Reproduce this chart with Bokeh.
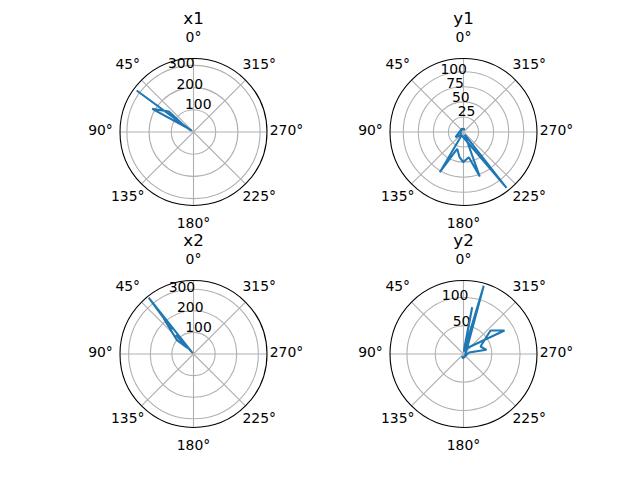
import numpy as np
from bokeh.plotting import figure
from bokeh.models import Range1d
from bokeh.core.properties import value
from bokeh.embed import file_html
from bokeh.resources import INLINE

# ---- data (theta in degrees, counter-clockwise from north; r values) ----
titles = ["x1", "y1", "x2", "y2"]

x1_theta = [58, 53.9, 56, 60.7, 50.3, 55, 60]
x1_r = [10, 317, 30, 213, 144, 60, 20]

y1_theta = [330, 30, 123, 140, 217.6, 205, 200.1, 191.9, 179.4, 171, 159.4, 149.5, 150, 90, 20]
y1_r = [5, 6, 15.8, 6, 117, 5, 78.7, 42.7, 50, 42.3, 29.8, 77.4, 8, 5, 6]

x2_theta = [40, 38.5, 41, 40.1, 50, 45, 42, 40]
x2_r = [10, 332, 150, 213, 100, 40, 120, 5]

y2_theta = [200, 343.5, 350, 349.5, 353, 299.8, 311, 293.8, 280.3, 285, 240, 170, 150]
y2_r = [6, 126, 4, 84, 8, 83.6, 63.3, 32.9, 41.3, 10, 5, 8, 4]

x1_rticks = [100, 200, 300]
y1_rticks = [25, 50, 75, 100]
x2_rticks = [100, 200, 300]
y2_rticks = [50, 100]
rmax_list = [331, 122, 340, 130]

theta_ticks = [0, 45, 90, 135, 180, 225, 270, 315]
theta_labels = ["0°", "45°", "90°", "135°", "180°", "225°", "270°", "315°"]

FONT = value("DejaVu Sans")
R_PX = 73.5
W, H = 640, 480

fig = figure(width=W, height=H, x_range=Range1d(0, W), y_range=Range1d(0, H),
             output_backend="svg", toolbar_location=None,
             x_axis_type=None, y_axis_type=None, min_border=0,
             outline_line_color=None, background_fill_color="white",
             border_fill_color="white")
fig.grid.visible = False


def panel(idx, title, theta, r, rticks, rmax, cx, cy):
    s = R_PX / rmax
    xn, yn = "px%d" % idx, "py%d" % idx
    fig.extra_x_ranges[xn] = Range1d(-cx / s, (W - cx) / s)
    fig.extra_y_ranges[yn] = Range1d(-(H - cy) / s, cy / s)
    kw = dict(x_range_name=xn, y_range_name=yn)
    tt = np.radians(theta_ticks)
    # spokes
    fig.segment(x0=0, y0=0, x1=-rmax * np.sin(tt), y1=rmax * np.cos(tt),
                line_color="#b0b0b0", line_width=1.1, **kw)
    # rings
    fig.circle(x=0, y=0, radius=rticks, fill_color=None,
               line_color="#b0b0b0", line_width=1.1, **kw)
    # radial labels at 22.5 deg
    a = np.radians(22.5)
    rt = np.array(rticks, dtype=float)
    fig.text(x=-rt * np.sin(a), y=rt * np.cos(a), text=[str(v) for v in rticks],
             text_font=FONT, text_font_size="13.9px", text_color="black",
             text_align="left", text_baseline="bottom", y_offset=-2, **kw)
    # data line
    th = np.radians(theta)
    rr = np.array(r, dtype=float)
    fig.line(x=-rr * np.sin(th), y=rr * np.cos(th), line_color="#1f77b4",
             line_width=2.08, **kw)
    # outer spine
    fig.circle(x=0, y=0, radius=rmax, fill_color=None, line_color="black",
               line_width=1.1, **kw)
    # theta labels
    d = (R_PX + 19.5) / s
    fig.text(x=-d * np.sin(tt), y=d * np.cos(tt), text=theta_labels,
             text_font=FONT, text_font_size="13.9px", text_color="black",
             text_align="center", text_baseline="middle", y_offset=-2, **kw)
    # title
    fig.text(x=[0], y=[113.5 / s], text=[title], text_font=FONT,
             text_font_size="16.7px", text_color="black",
             text_align="center", text_baseline="middle", y_offset=-1, **kw)


panel(0, titles[0], x1_theta, x1_r, x1_rticks, rmax_list[0], 193, 131.5)
panel(1, titles[1], y1_theta, y1_r, y1_rticks, rmax_list[1], 463, 131.5)
panel(2, titles[2], x2_theta, x2_r, x2_rticks, rmax_list[2], 193, 353.5)
panel(3, titles[3], y2_theta, y2_r, y2_rticks, rmax_list[3], 463, 353.5)

open("out.html", "w").write(file_html(fig, INLINE))
